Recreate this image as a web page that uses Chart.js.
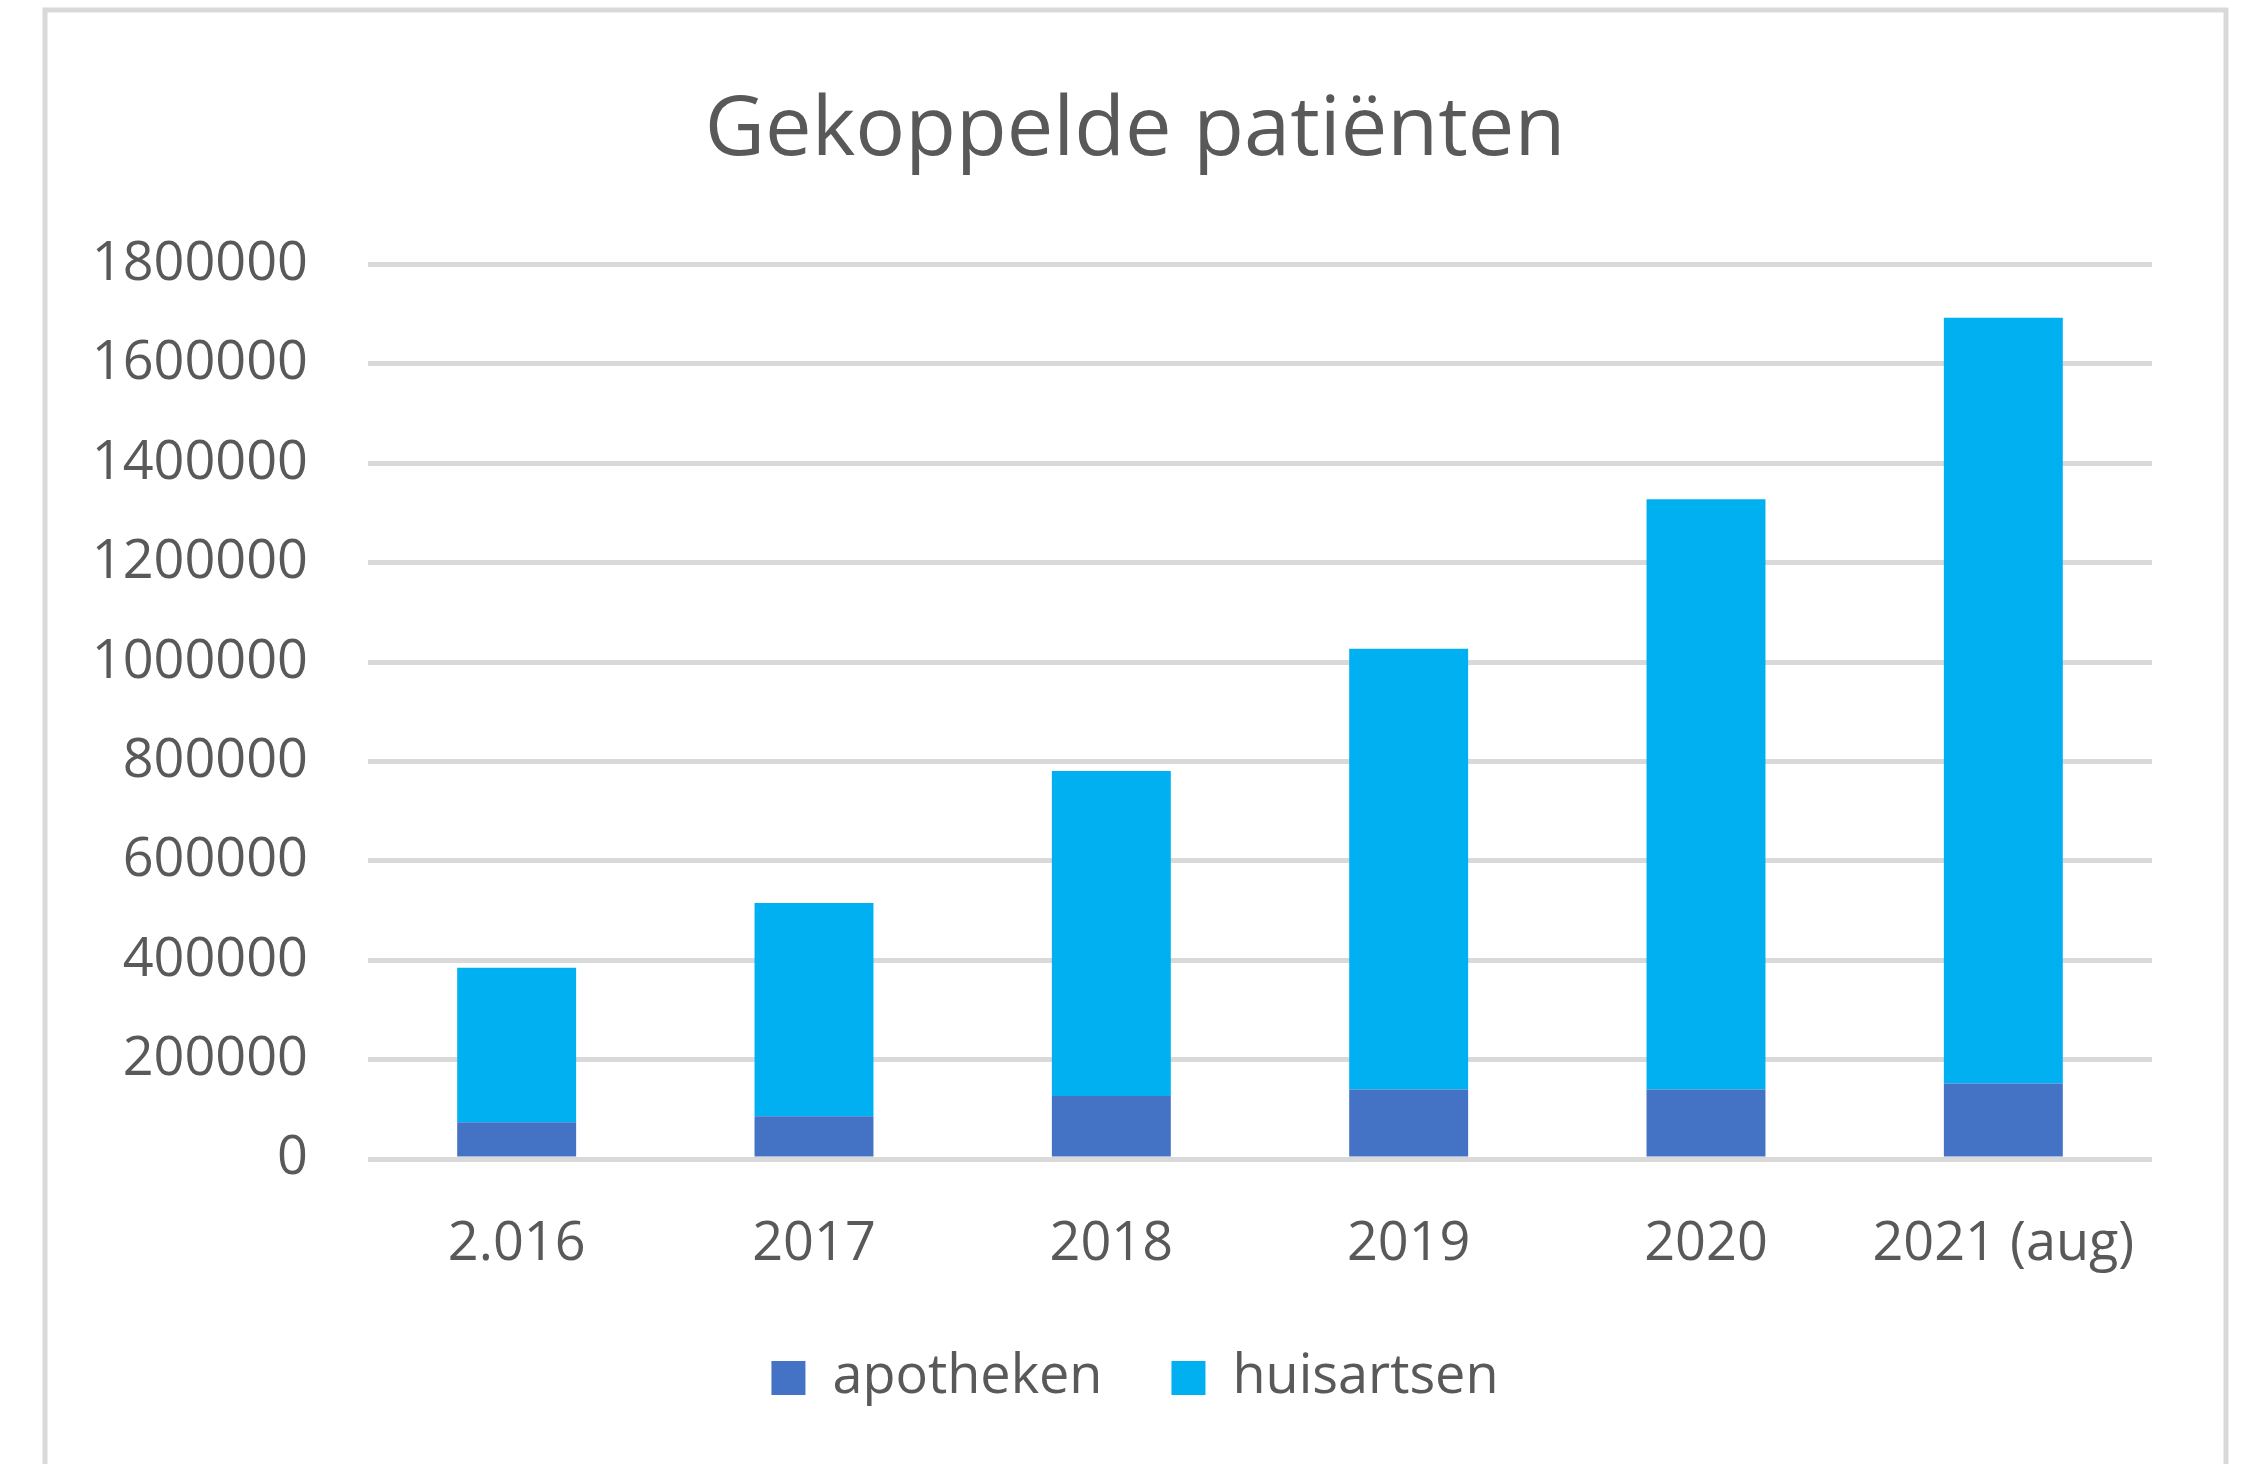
<!DOCTYPE html>
<html lang="nl">
<head>
  <meta charset="UTF-8">
  <title>Gekoppelde patiënten</title>
  <script src="https://cdn.jsdelivr.net/npm/chart.js"></script>
  <style>
    html, body { margin: 0; padding: 0; background: #fff; }
    #wrap { width: 2245px; height: 1464px; }
  </style>
</head>
<body>
  <div id="wrap"><canvas id="chart" width="2245" height="1464"></canvas></div>

  <script>
    const years = ['2.016', '2017', '2018', '2019', '2020', '2021 (aug)'];
    const apotheken = [74000, 86000, 127000, 140000, 140000, 152000];
    const totaal = [385000, 515000, 781000, 1027000, 1328000, 1693000];
    const huisartsen = totaal.map((t, i) => t - apotheken[i]);
    const yTicks = [0, 200000, 400000, 600000, 800000, 1000000, 1200000, 1400000, 1600000, 1800000];

    const grey = '#595959';
    const fontFam = '"Open Sans", "Segoe UI", sans-serif';

    // white background + light grey frame like the Excel chart area
    const frame = {
      id: 'frame',
      beforeDraw(chart) {
        const c = chart.ctx;
        c.save();
        c.fillStyle = '#fff';
        c.fillRect(0, 0, chart.width, chart.height);
        c.strokeStyle = '#d9d9d9';
        c.lineWidth = 5;
        c.strokeRect(45, 10, 2181, 1480);
        c.restore();
      }
    };

    Chart.defaults.font.family = fontFam;
    Chart.defaults.color = grey;

    new Chart(document.getElementById('chart'), {
      type: 'bar',
      data: {
        labels: years,
        datasets: [
          { label: 'apotheken', data: apotheken, backgroundColor: '#4472c4' },
          { label: 'huisartsen', data: huisartsen, backgroundColor: '#00b0f0' }
        ]
      },
      options: {
        responsive: false,
        animation: false,
        layout: { padding: { top: 82, right: 63, bottom: 49, left: 88 } },
        datasets: { bar: { barPercentage: 0.4, categoryPercentage: 1 } },
        scales: {
          x: {
            stacked: true,
            afterFit: s => { s.height = 123; },
            grid: { display: false },
            border: { display: false },
            ticks: { padding: 45, font: { size: 54 }, color: grey }
          },
          y: {
            stacked: true,
            min: 0,
            max: 1800000,
            afterBuildTicks: s => { s.ticks = yTicks.map(v => ({ value: v })); },
            afterFit: s => { s.width = 280; },
            grid: { color: '#d9d9d9', lineWidth: 5, drawTicks: false },
            border: { display: false },
            ticks: { padding: 60, font: { size: 54 }, color: grey, callback: v => String(v) }
          },
          // empty right-hand spacer so the title/legend centre on the frame
          spacer: {
            position: 'right',
            afterFit: s => { s.width = 30; },
            grid: { display: false },
            border: { display: false },
            ticks: { display: false }
          }
        },
        plugins: {
          title: {
            display: true,
            text: 'Gekoppelde patiënten',
            color: grey,
            font: { size: 83, weight: 'normal' },
            padding: { top: 0, bottom: 83 }
          },
          legend: {
            position: 'bottom',
            labels: { boxWidth: 34, boxHeight: 34, padding: 69, font: { size: 54 }, color: grey }
          },
          tooltip: { enabled: false }
        }
      },
      plugins: [frame]
    });
  </script>
</body>
</html>
